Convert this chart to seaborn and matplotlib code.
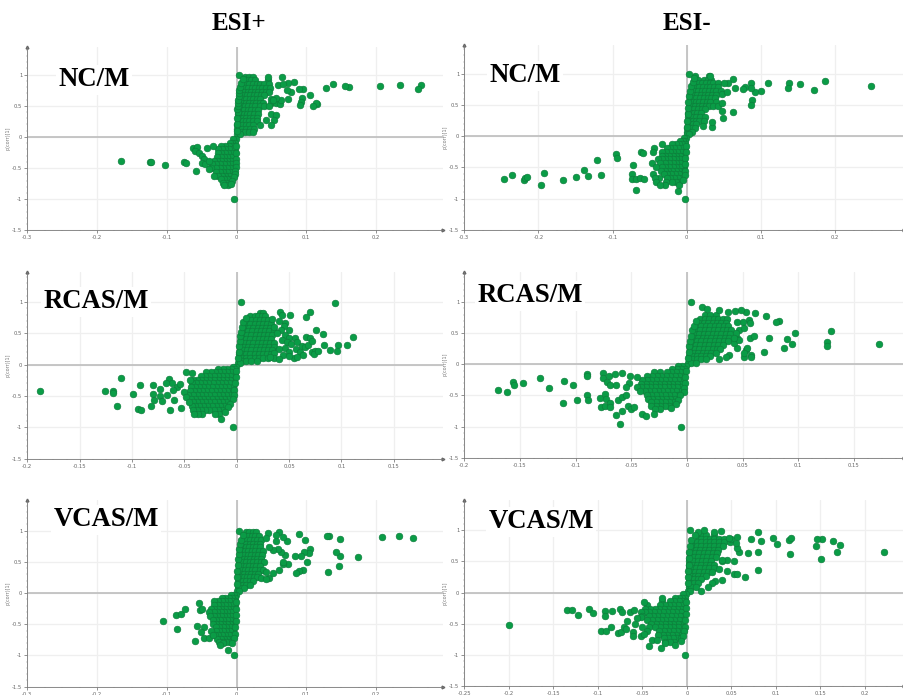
import matplotlib
matplotlib.use("Agg")
import matplotlib.pyplot as plt
import seaborn as sns
import pandas as pd
from matplotlib.ticker import MultipleLocator, FuncFormatter

# ---------- values: (pcorr, [p values in that band]) ----------
nc_pos_rows = [
 (.97,[.012,.018,.024]),(.91,[.011,.016,.021,.026,.045]),(.85,[.008,.013,.018,.023,.029,.034,.04,.046]),
 (.79,[.007,.012,.017,.022,.027,.032,.037,.042,.048]),(.73,[.006,.011,.016,.021,.026,.031,.036,.042,.047]),
 (.67,[.005,.01,.015,.02,.025,.03,.035,.04]),(.61,[.004,.009,.014,.019,.024,.029,.034,.05]),
 (.55,[.004,.008,.013,.018,.023,.028,.033,.038,.049,.056]),(.49,[.003,.007,.012,.017,.022,.027,.033,.039]),
 (.43,[.003,.007,.011,.016,.021,.026,.031]),(.37,[.002,.006,.01,.015,.02,.025,.031,.049]),
 (.31,[.002,.005,.009,.014,.019,.024,.03]),(.25,[.002,.005,.009,.013,.018,.023,.029]),
 (.19,[.001,.004,.008,.013,.018,.024,.034]),(.13,[.001,.004,.008,.013,.019,.025]),
 (.08,[.002,.006,.012,.018,.024]),(.04,[.001,.005]),
 (-.04,[-.001,-.005]),(-.09,[-.002,-.006,-.01]),(-.14,[-.002,-.006,-.011,-.016,-.022]),
 (-.2,[-.002,-.006,-.011,-.016,-.021,-.027]),(-.26,[-.002,-.007,-.012,-.017,-.022,-.027]),
 (-.32,[-.003,-.008,-.013,-.018,-.023,-.028]),(-.38,[-.003,-.008,-.013,-.018,-.023,-.028,-.033]),
 (-.44,[-.003,-.008,-.013,-.018,-.024,-.03,-.035]),(-.5,[-.004,-.009,-.014,-.019,-.024,-.029,-.036]),
 (-.56,[-.004,-.009,-.014,-.019,-.024,-.03]),(-.62,[-.006,-.011,-.016,-.021,-.026,-.032]),
 (-.68,[-.008,-.013,-.018,-.023]),(-.74,[-.01,-.015,-.02]),(-.78,[-.012,-.018]),
]
nc_pos_out = [(-.165,-.39),(-.1245,-.41),(-.122,-.4),(-.103,-.455),(-.075,-.41),(-.072,-.42),(-.058,-.545),(-.003,-1.0),(.003,1.0),
 (.264,.84),(.26,.765),(.234,.84),(.206,.82),(.161,.81),(.155,.82),(.139,.855),(.128,.79),(.116,.53),(.1135,.54),(.11,.5),
 (.105,.675),(.095,.765),(.09,.765),(.094,.62),(.092,.555),(.0905,.515),(.082,.885),(.0735,.87),(.074,.615),(.078,.73),
 (.0725,.755),(.065,.965),(.06,.83),(.067,.845),(.062,.53),(.0635,.595),(.057,.62),(.056,.355),(.053,.27),(.05,.19),
 (.042,.27),(.046,.49),(.052,.59),(.045,.96),
 (-.062,-.18),(-.058,-.2),(-.056,-.16),(-.06,-.23),(-.054,-.25),(-.05,-.3),(-.047,-.36),(-.05,-.42),(-.045,-.43),
 (-.04,-.38),(-.042,-.18),(-.034,-.15),(-.04,-.52)]
nc_pos_edge = [(.001,.1),(.001,.2),(.001,.3),(.002,.4),(.001,.45),(.002,.5),(.002,.55),(.002,.6),(.003,.65),(.003,.7),(.004,.75),
 (.005,.8),(.007,.87),(.009,.93),(-.001,-.15),(-.001,-.25),(-.001,-.35),(-.001,-.42),(-.001,-.48),(-.002,-.55),(-.002,-.6),
 (-.004,-.65),(-.006,-.7),(-.008,-.75)]

nc_neg_rows = [
 (.97,[.011,.03]),(.91,[.011,.015,.023,.028,.033]),(.85,[.011,.016,.021,.026,.031,.036,.042]),
 (.79,[.008,.012,.017,.022,.027,.032,.037,.042]),(.73,[.006,.01,.015,.02,.025,.03,.035,.04,.046]),
 (.67,[.005,.009,.014,.019,.024,.029,.034,.039]),(.61,[.004,.008,.013,.018,.023,.028,.033,.038]),
 (.55,[.004,.008,.012,.017,.022,.027,.032,.04]),(.49,[.003,.007,.011,.016,.021,.026,.03,.036,.042]),
 (.43,[.003,.006,.01,.015,.02,.025]),(.37,[.002,.006,.01,.014,.019]),(.31,[.002,.005,.009,.013,.018,.024]),
 (.25,[.002,.005,.009,.013,.017,.023]),(.19,[.002,.005,.008,.012]),(.13,[.001,.004,.007,.011]),
 (.07,[.001,.004,.007]),(.03,[.001,.003]),
 (-.03,[-.001,-.004]),(-.08,[-.002,-.005,-.009]),(-.13,[-.003,-.007,-.011,-.015,-.02,-.033]),
 (-.19,[-.003,-.007,-.012,-.017,-.022,-.027,-.044]),(-.25,[-.003,-.008,-.013,-.018,-.023,-.028,-.033,-.045]),
 (-.31,[-.004,-.009,-.014,-.019,-.024,-.029,-.034]),(-.37,[-.004,-.009,-.014,-.019,-.024,-.029,-.034,-.039]),
 (-.43,[-.004,-.009,-.014,-.019,-.024,-.029,-.036,-.047]),(-.49,[-.004,-.009,-.014,-.019,-.024,-.029,-.034,-.042]),
 (-.55,[-.005,-.01,-.015,-.02,-.025,-.03,-.035]),(-.61,[-.006,-.011,-.016,-.021,-.026,-.031,-.046]),
 (-.67,[-.007,-.012,-.017,-.022,-.027,-.038,-.043]),(-.73,[-.01,-.015,-.02,-.028,-.041]),(-.79,[-.01,-.029,-.036]),
]
nc_neg_out = [(-.247,-.68),(-.235,-.62),(-.22,-.7),(-.218,-.675),(-.215,-.66),(-.1925,-.595),(-.196,-.78),(-.1665,-.705),
 (-.149,-.66),(-.138,-.535),(-.1335,-.64),(-.1205,-.375),(-.1155,-.615),(-.095,-.28),(-.094,-.35),(-.073,-.465),(-.074,-.605),
 (-.0745,-.69),(-.068,-.69),(-.068,-.865),(-.0625,-.665),(-.0575,-.69),(-.062,-.26),(-.0585,-.27),(-.003,-1.0),(-.012,-.88),(.003,1.0),
 (.249,.8),(.186,.88),(.172,.75),(.1525,.845),(.138,.86),(.137,.77),(.11,.855),(.0995,.72),(.092,.705),(.0865,.86),(.086,.77),
 (.079,.785),(.076,.76),(.088,.58),(.086,.5),(.065,.775),(.062,.925),(.0625,.39),(.0485,.29),(.048,.41),(.047,.54),(.047,.68),
 (.054,.71),(.055,.86),(.05,.85),(.034,.145),(.034,.225),(.0215,.165),(.0315,.97)]
nc_neg_edge = [(.001,.15),(.001,.25),(.002,.35),(.002,.45),(.002,.55),(.003,.65),(.004,.72),(.006,.8),(.008,.87),(.01,.93),
 (-.001,-.15),(-.001,-.25),(-.002,-.35),(-.002,-.45),(-.002,-.55),(-.003,-.62),(-.005,-.7)]

rcas_pos_rows = [
 (.83,[.022,.025]),(.77,[.013,.017,.02,.024,.027]),(.71,[.01,.014,.018,.022,.026,.03]),
 (.65,[.009,.013,.017,.021,.025,.029,.033]),(.59,[.008,.012,.016,.02,.024,.028,.032]),
 (.53,[.007,.011,.015,.019,.023,.027,.031,.036]),(.47,[.006,.01,.014,.018,.022,.026,.03,.034]),
 (.41,[.005,.009,.013,.017,.021,.025,.029,.033]),(.35,[.004,.008,.012,.016,.02,.024,.028,.032,.036]),
 (.29,[.004,.007,.011,.015,.019,.023,.027,.031,.036]),(.23,[.003,.006,.01,.014,.018,.022,.026,.03,.034]),
 (.17,[.002,.005,.009,.013,.017,.021,.025,.029,.033]),(.11,[.002,.005,.009,.013,.017,.021,.025,.03]),
 (.06,[.002,.005,.009,.014,.019]),(.02,[.001,.003]),
 (-.03,[-.001,-.004]),(-.07,[-.002,-.005,-.009,-.013,-.018]),(-.12,[-.002,-.005,-.009,-.013,-.017,-.021,-.025,-.029]),
 (-.18,[-.002,-.006,-.01,-.014,-.018,-.022,-.026,-.03,-.034]),
 (-.24,[-.003,-.006,-.01,-.014,-.018,-.022,-.026,-.03,-.034,-.038,-.042]),
 (-.3,[-.003,-.007,-.011,-.015,-.019,-.023,-.027,-.031,-.035,-.039,-.043]),
 (-.36,[-.004,-.008,-.012,-.016,-.02,-.024,-.028,-.032,-.036,-.04,-.044]),
 (-.42,[-.005,-.009,-.013,-.017,-.021,-.025,-.029,-.033,-.037,-.041,-.045]),
 (-.48,[-.006,-.01,-.014,-.018,-.022,-.026,-.03,-.034,-.038,-.042,-.047]),
 (-.54,[-.008,-.012,-.016,-.02,-.024,-.028,-.032,-.036,-.04,-.044]),
 (-.6,[-.01,-.014,-.018,-.022,-.026,-.03,-.034,-.038,-.042]),
 (-.66,[-.012,-.016,-.02,-.024,-.028,-.032,-.036,-.04,-.043]),
 (-.72,[-.014,-.018,-.022,-.026,-.03,-.034,-.038,-.042]),
 (-.78,[-.017,-.021,-.033,-.037,-.041]),
]
rcas_pos_out = [(-.188,-.425),(-.126,-.415),(-.118,-.425),(-.1178,-.457),(-.1145,-.66),(-.1107,-.213),(-.099,-.468),(-.092,-.32),
 (-.094,-.7),(-.091,-.72),(-.08,-.325),(-.08,-.463),(-.079,-.57),(-.082,-.66),(-.073,-.39),(-.0735,-.495),(-.071,-.575),(-.064,-.72),
 (-.0595,-.57),(-.053,-.685),(-.004,-1.0),(-.015,-.87),(-.048,-.115),(-.043,-.128),(-.0645,-.235),(-.062,-.29),(-.068,-.3),
 (-.0665,-.485),(-.0575,-.35),(-.054,-.31),(-.061,-.405),(-.05,-.43),(-.048,-.51),(-.046,-.59),(-.045,-.245),
 (.0045,1.0),(.0935,.98),(.111,.436),(.105,.31),(.097,.31),(.096,.22),(.089,.234),(.0837,.31),(.0827,.495),(.076,.553),(.0697,.846),
 (.066,.766),(.0506,.787),(.041,.835),(.0436,.8),(.05,.553),(.046,.67),(.034,.73),(.04,.7),(.045,.62),(.036,.6),(.042,.56),(.038,.5),
 (.046,.48),(.05,.42),(.056,.42),(.043,.4),(.048,.36),(.052,.33),(.058,.36),(.062,.3),(.057,.25),(.06,.2),(.055,.1),(.058,.13),
 (.063,.15),(.065,.28),(.068,.32),(.066,.44),(.07,.42),(.072,.38),(.072,.2),(.075,.22),(.074,.17),(.078,.22),(.046,.26),(.04,.25),
 (.036,.18),(.044,.16),(.036,.1),(.04,.09),(.032,.13),(.05,.2),(.05,.14)]
rcas_pos_edge = [(.001,.1),(.002,.2),(.002,.3),(.003,.38),(.003,.45),(.004,.52),(.005,.6),(.006,.68),(.009,.75),
 (-.001,-.1),(-.001,-.2),(-.002,-.3),(-.003,-.4),(-.003,-.48),(-.004,-.55),(-.006,-.62),(-.008,-.68),(-.011,-.75)]

rcas_neg_rows = [
 (.79,[.016,.021,.026]),(.73,[.012,.016,.02,.024,.028,.032,.036]),(.67,[.011,.015,.019,.023,.027,.031,.035]),
 (.61,[.009,.013,.017,.021,.025,.029,.033,.037]),(.55,[.008,.012,.016,.02,.024,.028,.032,.036,.04]),
 (.49,[.007,.011,.015,.019,.023,.027,.031,.035,.039]),(.43,[.006,.01,.014,.018,.022,.026,.03,.034,.038,.045]),
 (.37,[.005,.009,.013,.017,.021,.025,.029,.033,.037]),(.31,[.004,.008,.012,.016,.02,.024,.028,.032]),
 (.25,[.003,.007,.011,.015,.019,.023,.027,.03]),(.19,[.003,.006,.01,.014,.018,.022,.026]),
 (.13,[.002,.005,.009,.013,.017,.021]),(.08,[.002,.005,.009,.013,.017]),(.03,[.001,.004,.008]),
 (-.03,[-.001,-.004,-.008]),(-.08,[-.002,-.005,-.009,-.013]),(-.13,[-.003,-.006,-.01,-.014,-.018,-.024,-.03]),
 (-.19,[-.003,-.007,-.011,-.015,-.019,-.023,-.027,-.031,-.036]),
 (-.25,[-.004,-.008,-.012,-.016,-.02,-.024,-.028,-.032,-.036,-.04]),
 (-.31,[-.005,-.009,-.013,-.017,-.021,-.025,-.029,-.033,-.037,-.041]),
 (-.37,[-.005,-.009,-.013,-.017,-.021,-.025,-.029,-.033,-.037,-.041,-.045]),
 (-.43,[-.005,-.01,-.014,-.018,-.022,-.026,-.03,-.034,-.038,-.042]),
 (-.49,[-.008,-.012,-.016,-.02,-.024,-.028,-.032,-.036]),
 (-.55,[-.011,-.015,-.019,-.023,-.027,-.031,-.035]),(-.61,[-.012,-.016,-.02,-.024,-.028,-.032]),
 (-.67,[-.016,-.02,-.024,-.028,-.032]),(-.72,[-.024,-.029]),
]
rcas_neg_out = [(-.17,-.413),(-.162,-.445),(-.156,-.284),(-.155,-.327),(-.147,-.306),(-.132,-.225),(-.124,-.375),(-.11,-.268),
 (-.102,-.332),(-.111,-.617),(-.099,-.574),(-.09,-.155),(-.09,-.188),(-.0895,-.5),(-.0885,-.574),(-.0755,-.145),(-.0755,-.225),
 (-.07,-.188),(-.0647,-.155),(-.0587,-.134),(-.0716,-.28),(-.0695,-.327),(-.0635,-.332),(-.078,-.536),(-.077,-.68),(-.074,-.477),
 (-.073,-.552),(-.0737,-.665),(-.0695,-.617),(-.069,-.68),(-.064,-.81),(-.0605,-.96),(-.058,-.745),(-.0617,-.574),(-.058,-.53),
 (-.055,-.5),(-.0533,-.67),(-.0506,-.724),(-.0476,-.68),(-.04,-.8),(-.0365,-.83),(-.03,-.79),(-.005,-1.0),(-.0515,-.182),(-.052,-.295),
 (-.055,-.37),(-.045,-.2),
 (.004,1.0),(.1725,.332),(.129,.53),(.126,.365),(.1255,.3),(.097,.5),(.09,.407),(.0946,.32),(.087,.257),(.083,.7),(.0796,.676),
 (.0707,.772),(.0737,.424),(.0695,.204),(.061,.82),(.0527,.836),(.049,.874),(.043,.863),(.037,.847),(.0287,.874),(.0138,.928),
 (.018,.885),(.058,.15),(.058,.123),(.0515,.123),(.0527,.23),(.054,.257),(.0515,.188),(.0377,.15),(.0347,.113),(.0287,.08),(.057,.42),
 (.06,.456),(.045,.257),(.042,.338),(.0467,.39),(.056,.713),(.0563,.66),(.05,.686),(.045,.686),(.047,.55),(.051,.58),(.044,.5),(.042,.42)]
rcas_neg_edge = [(.001,.1),(.002,.2),(.002,.3),(.003,.38),(.004,.46),(.005,.55),(.006,.62),(.008,.7),
 (-.001,-.1),(-.002,-.2),(-.002,-.3),(-.003,-.38),(-.003,-.45),(-.006,-.5),(-.008,-.58),(-.01,-.64),(-.014,-.7)]

vcas_pos_rows = [
 (.97,[.013,.018,.023,.028]),(.91,[.012,.017,.022,.027,.032]),(.85,[.01,.015,.02,.025,.03,.035]),
 (.79,[.009,.014,.019,.024,.029,.034]),(.73,[.008,.013,.018,.023,.028,.033]),(.67,[.007,.012,.017,.022,.027,.032,.038]),
 (.61,[.006,.011,.016,.021,.026,.031,.036]),(.55,[.005,.01,.015,.02,.025,.03,.035]),(.49,[.004,.009,.014,.019,.024,.029,.035,.04]),
 (.43,[.003,.008,.013,.018,.023,.028,.034]),(.37,[.003,.007,.012,.017,.022,.027,.033,.038]),
 (.31,[.002,.006,.011,.016,.021,.026,.031]),(.25,[.002,.006,.01,.015,.02,.025,.03]),
 (.19,[.002,.005,.009,.014,.019,.024]),(.13,[.002,.005,.009,.014,.02]),(.08,[.002,.005,.01]),(.03,[.001,.004]),
 (-.03,[-.001,-.004,-.008]),(-.08,[-.002,-.006,-.011,-.016,-.021]),(-.13,[-.002,-.006,-.011,-.016,-.021,-.027,-.033]),
 (-.19,[-.002,-.007,-.012,-.017,-.022,-.027,-.033]),(-.25,[-.003,-.007,-.012,-.017,-.022,-.027,-.032,-.037]),
 (-.31,[-.003,-.008,-.013,-.018,-.023,-.028,-.033,-.04]),(-.37,[-.003,-.008,-.013,-.018,-.023,-.028,-.033,-.038]),
 (-.43,[-.004,-.009,-.014,-.019,-.024,-.029,-.034]),(-.49,[-.004,-.009,-.014,-.019,-.024,-.029,-.034]),
 (-.55,[-.005,-.01,-.015,-.02,-.025,-.03]),(-.61,[-.005,-.01,-.015,-.02,-.025,-.03,-.036]),
 (-.67,[-.006,-.011,-.016,-.021,-.026,-.031]),(-.73,[-.008,-.013,-.018,-.023,-.028]),(-.79,[-.01,-.015,-.02,-.025]),
]
vcas_pos_out = [(-.105,-.444),(-.0865,-.348),(-.08,-.337),(-.0735,-.257),(-.085,-.578),(-.0568,-.535),(-.059,-.775),(-.047,-.545),
 (-.0505,-.62),(-.047,-.727),(-.04,-.727),(-.034,-.674),(-.0534,-.16),(-.0525,-.267),(-.049,-.257),(-.003,-1.0),(-.012,-.91),(-.0195,-.807),(-.024,-.834),
 (.003,1.0),(.253,.888),(.2325,.914),(.2085,.893),(.174,.572),(.149,.872),(.1465,.433),(.149,.588),(.142,.658),(.1307,.33),(.133,.909),
 (.1302,.92),(.1054,.706),(.1045,.636),(.101,.503),(.0973,.663),(.098,.85),(.09,.94),(.0926,.6),(.0845,.6),(.095,.374),(.09,.353),
 (.0854,.315),(.0735,.46),(.066,.46),(.0615,.37),(.066,.49),(.07,.61),(.064,.652),(.059,.706),(.052,.69),(.047,.743),(.0615,.984),
 (.072,.84),(.066,.893),(.057,.84),(.045,.968),(.0425,.877),(.057,.93),(.035,.235),(.047,.235),(.0425,.225),(.052,.315),(.0425,.342)]
vcas_pos_edge = [(.001,.15),(.001,.25),(.001,.35),(.002,.45),(.002,.55),(.003,.63),(.004,.7),(.005,.78),(.007,.85),(.009,.93),
 (-.001,-.15),(-.001,-.25),(-.001,-.35),(-.001,-.45),(-.002,-.55),(-.002,-.65),(-.004,-.72),(-.006,-.8)]

vcas_neg_rows = [
 (.93,[.013,.017,.022,.03]),(.87,[.012,.016,.021,.026,.031,.036,.042]),(.81,[.006,.011,.016,.021,.026,.031,.036,.042,.048]),
 (.75,[.006,.011,.016,.021,.026,.031,.036,.041]),(.69,[.005,.01,.015,.02,.025,.03,.035]),(.63,[.004,.009,.014,.019,.024,.029,.034]),
 (.57,[.004,.008,.013,.018,.023,.028,.033]),(.51,[.003,.007,.012,.017,.022,.027,.04]),(.45,[.003,.007,.011,.016,.021,.026,.031]),
 (.39,[.002,.006,.01,.015,.02,.025,.03]),(.33,[.002,.005,.009,.014,.019,.024,.028]),(.27,[.002,.005,.009,.013,.018,.022]),
 (.21,[.002,.005,.008,.012,.016]),(.15,[.002,.004,.008,.012]),(.09,[.002,.005,.01]),(.03,[.001,.004]),
 (-.03,[-.001,-.004]),(-.08,[-.002,-.005,-.009,-.013]),(-.14,[-.002,-.005,-.009,-.014,-.019,-.028]),
 (-.2,[-.003,-.006,-.01,-.015,-.02,-.025,-.03,-.045]),(-.26,[-.003,-.007,-.011,-.016,-.021,-.026,-.031,-.036,-.041,-.047]),
 (-.32,[-.003,-.007,-.012,-.017,-.022,-.027,-.032,-.037,-.042,-.047,-.052]),
 (-.38,[-.004,-.008,-.013,-.018,-.023,-.028,-.033,-.038,-.043,-.05]),
 (-.44,[-.004,-.009,-.014,-.019,-.024,-.029,-.034,-.039,-.045]),(-.5,[-.005,-.01,-.015,-.02,-.025,-.03,-.035,-.04]),
 (-.56,[-.005,-.01,-.015,-.02,-.025,-.03,-.036,-.042,-.05]),(-.62,[-.006,-.011,-.016,-.021,-.026,-.031,-.045]),
 (-.68,[-.007,-.012,-.017,-.022,-.027,-.032]),(-.74,[-.011,-.016,-.021,-.026]),(-.8,[-.014,-.019,-.024]),
]
vcas_neg_out = [(-.2,-.516),(-.135,-.274),(-.1285,-.285),(-.1225,-.366),(-.1094,-.269),(-.105,-.328),(-.0918,-.3),(-.092,-.37),
 (-.0843,-.3),(-.0753,-.269),(-.0727,-.312),(-.0966,-.618),(-.091,-.613),(-.0854,-.548),(-.0775,-.656),(-.074,-.63),(-.071,-.548),
 (-.068,-.586),(-.0667,-.457),(-.0633,-.317),(-.0596,-.28),(-.0607,-.63),(-.0607,-.694),(-.0585,-.505),(-.052,-.7),(-.0483,-.672),
 (-.042,-.86),(-.039,-.763),(-.034,-.763),(-.0285,-.892),(-.024,-.817),(-.0135,-.844),(-.0026,-1.0),(-.006,-.737),(-.0277,-.09),
 (-.048,-.145),(-.052,-.387),(-.056,-.414),
 (.0034,1.0),(.222,.656),(.172,.758),(.169,.65),(.1644,.828),(.152,.86),(.1464,.866),(.1446,.742),(.151,.532),(.1154,.624),(.1146,.85),
 (.1165,.876),(.1015,.785),(.0963,.876),(.0835,.823),(.08,.978),(.08,.656),(.08,.366),(.0723,.86),(.0685,.64),(.0655,.247),(.0566,.892),
 (.059,.65),(.0566,.715),(.0528,.505),(.0453,.527),(.04,.527),(.0528,.296),(.0566,.296),(.0457,.35),(.0356,.376),(.04,.204),(.032,.188),
 (.0285,.15),(.024,.086),(.0154,.032),(.038,.995),(.019,1.0),(.0127,.973),(.03,.973),(.05,.866),(.0547,.796),(.047,.876)]
vcas_neg_edge = [(.001,.15),(.001,.25),(.001,.35),(.002,.45),(.002,.55),(.003,.65),(.004,.75),(.005,.85),(.009,.93),
 (-.001,-.15),(-.001,-.25),(-.001,-.35),(-.002,-.45),(-.002,-.55),(-.003,-.62),(-.004,-.7),(-.006,-.78)]

x_ticks_wide = [-.3,-.2,-.1,0,.1,.2]
x_ticks_mid = [-.2,-.15,-.1,-.05,0,.05,.1,.15]
x_ticks_last = [-.25,-.2,-.15,-.1,-.05,0,.05,.1,.15,.2]
y_ticks = [-1.5,-1,-.5,0,.5,1]

GREEN, EDGE = "#0a9c46", "#0d7c3b"
W, H = 904, 695
FONT = "Liberation Serif"

def points(rows, *extra):
    pts = [(x, y) for y, r in rows for x in r] + [p for e in extra for p in e]
    return pd.DataFrame(pts, columns=["p", "pcorr"])

def fmt(v, _):
    return f"{v:g}" if v else "0"

panels = [
 # data, xticks, x-limits, y-limits, box(left,right,top,bottom px), minor
 (points(nc_pos_rows, nc_pos_out, nc_pos_edge), x_ticks_wide, (-.3,.296), (-1.5,1.45), (27.3,443,46.7,230.3), .025),
 (points(nc_neg_rows, nc_neg_out, nc_neg_edge), x_ticks_wide, (-.3,.293), (-1.5,1.465), (464.3,904,45,229.7), .025),
 (points(rcas_pos_rows, rcas_pos_out, rcas_pos_edge), x_ticks_mid, (-.2,.197), (-1.5,1.484), (27.3,443,271.7,458.7), .0125),
 (points(rcas_neg_rows, rcas_neg_out, rcas_neg_edge), x_ticks_mid, (-.2,.195), (-1.5,1.49), (464.3,904,271.7,457.7), .0125),
 (points(vcas_pos_rows, vcas_pos_out, vcas_pos_edge), x_ticks_wide, (-.3,.296), (-1.5,1.49), (27.3,443,500,686.7), .025),
 (points(vcas_neg_rows, vcas_neg_out, vcas_neg_edge), x_ticks_last, (-.25,.244), (-1.5,1.49), (464.3,904,500,685.7), .0125),
]

sns.set_theme(style="white")
plt.rcParams["font.family"] = ["DejaVu Sans"]
fig = plt.figure(figsize=(W/100, H/100), dpi=100, facecolor="white")

for df, xt, xl, yl, (l, r, t, b), minor in panels:
    ax = fig.add_axes([l/W, 1-b/H, (r-l)/W, (b-t)/H])
    ax.set_xlim(*xl); ax.set_ylim(*yl)
    ax.set_axisbelow(True)
    ax.grid(True, color="#efefef", lw=0.9)
    ax.axhline(0, color="#bdbdbd", lw=1.2, zorder=1)
    ax.axvline(0, color="#bdbdbd", lw=1.2, zorder=1)
    sns.scatterplot(data=df, x="p", y="pcorr", ax=ax, color=GREEN, edgecolor=EDGE,
                    linewidth=0.45, s=23, legend=False, clip_on=False, zorder=3)
    ax.set_xticks(xt); ax.set_yticks(y_ticks)
    ax.xaxis.set_major_formatter(FuncFormatter(fmt))
    ax.yaxis.set_major_formatter(FuncFormatter(fmt))
    ax.xaxis.set_minor_locator(MultipleLocator(minor))
    ax.yaxis.set_minor_locator(MultipleLocator(.1))
    ax.tick_params(which="major", length=2, width=.5, labelsize=3.8, colors="#666666", pad=1.5, bottom=True, left=True)
    ax.tick_params(which="minor", length=1, width=.3, color="#888888", bottom=True, left=True)
    ax.set_xlabel("")
    ax.set_ylabel("p(corr)[1]", fontsize=3.5, color="#777777", labelpad=1.5)
    for s in ("top", "right"):
        ax.spines[s].set_visible(False)
    for s in ("left", "bottom"):
        ax.spines[s].set_color("#777777"); ax.spines[s].set_linewidth(.6)
    ax.plot(0, 1, marker="^", ms=2, color="#666666", transform=ax.transAxes, clip_on=False)
    ax.plot(1, 0, marker=">", ms=2, color="#666666", transform=ax.transAxes, clip_on=False)

def label(txt, cx, cy, size=19.3, box=True):
    kw = dict(bbox=dict(fc="white", ec="none", pad=2)) if box else {}
    fig.text(cx/W, 1-cy/H, txt, ha="center", va="center", family=FONT, weight="bold",
             fontsize=size, color="black", zorder=10, **kw)

label("ESI+", 239, 23, 18, False)
label("ESI-", 687, 23, 18, False)
label("NC/M", 94, 80)
label("NC/M", 525, 76)
label("RCAS/M", 96, 302)
label("RCAS/M", 530, 296)
label("VCAS/M", 106, 520)
label("VCAS/M", 541, 522)

fig.savefig("out.png", dpi=100, facecolor="white")
